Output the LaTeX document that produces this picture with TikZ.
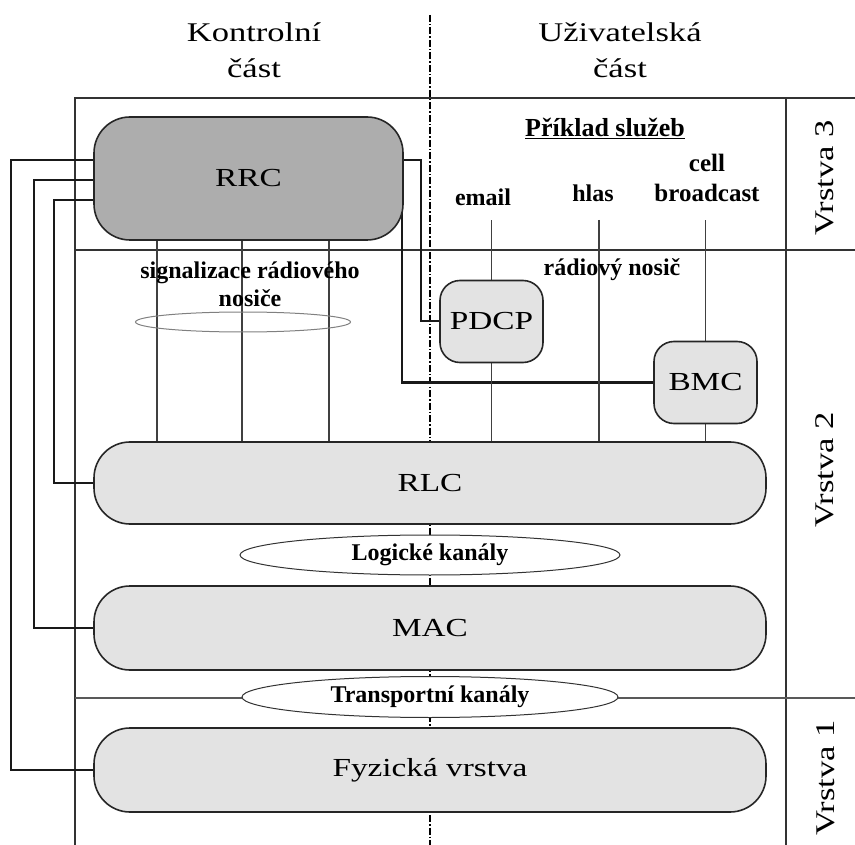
\documentclass[tikz,border=0pt]{standalone}
\usepackage{fontspec}
\setmainfont{Liberation Serif}
\newfontfamily\widefont{Liberation Serif}[FakeStretch=1.28]
\usetikzlibrary{shapes.geometric, positioning, backgrounds}

\begin{document}
\begin{tikzpicture}[x=1pt, y=-1pt, on grid,
    bigbox/.style={draw=black!85, line width=1.6pt, rounded corners=36pt, fill=black!11,
      minimum width=672pt, minimum height=82pt, font=\widefont\fontsize{26}{30}\selectfont},
    smallbox/.style={draw=black!85, line width=1.6pt, rounded corners=20pt, fill=black!11,
      minimum width=103pt, minimum height=82pt, font=\widefont\fontsize{26}{30}\selectfont},
    chan/.style={ellipse, draw=black!80, line width=1pt, fill=white, inner sep=0pt,
      font=\bfseries\fontsize{24}{28}\selectfont},
    lbl/.style={font=\bfseries\fontsize{24}{28}\selectfont, align=center},
    head/.style={font=\widefont\fontsize{27}{36}\selectfont, align=center},
    rule/.style={draw=black!80, line width=1.6pt},
    wire/.style={draw=black!90, line width=2pt},
    svc/.style={draw=black!75, line width=1.3pt}]
  \useasboundingbox (0,0) rectangle (855,845);

  % protocol blocks
  \node[bigbox, fill=black!32, minimum width=309pt, minimum height=123pt] (rrc) at (248.5,178.5) {RRC};
  \node[smallbox] (pdcp) at (491.5,321.5) {PDCP};
  \node[smallbox] (bmc) at (705.5,382.5) {BMC};
  \node[bigbox] (rlc) at (430,483) {RLC};
  \node[chan, minimum width=380pt, minimum height=40pt] (logic) [below=72pt of rlc] {Logické kanály};
  \node[bigbox, minimum height=84pt] (mac) [below=145pt of rlc] {MAC};
  \node[chan, minimum width=376pt, minimum height=41pt] (transport) [below=69pt of mac] {Transportní kanály};
  \node[bigbox, minimum height=84pt] (phy) [below=142pt of mac] {Fyzická vrstva};

  % headings and labels
  \node[head] (ctrl) at (254,50) {Kontrolní\\část};
  \node[head] (user) at (620,50) {Uživatelská\\část};
  \node[lbl, font=\bfseries\fontsize{26}{30}\selectfont] (examples) at (605,128) {\underline{Příklad služeb}};
  \node[lbl] (email) at (483,197) {email};
  \node[lbl] (voice) at (593,193) {hlas};
  \node[lbl, font=\bfseries\fontsize{25}{30}\selectfont] (cbc) at (707,178) {cell\\broadcast};
  \node[lbl] (sigtxt) at (250,284) {signalizace rádiového\\nosiče};
  \node[lbl] (radiotxt) at (612,270) {rádiový nosič};
  \node[ellipse, draw=black!50, line width=1pt, minimum width=215pt, minimum height=20pt, inner sep=0pt] (sigell) at (243,322) {};
  \node[head, rotate=90] (l3) at (825,178) {Vrstva 3};
  \node[head, rotate=90] (l2) at (825,470) {Vrstva 2};
  \node[head, rotate=90] (l1) at (826,778) {Vrstva 1};

  \begin{scope}[on background layer]
    % frame
    \draw[line width=1.2pt, dash pattern=on 7pt off 2pt on 1.5pt off 2pt] (430,15) -- (430,845);
    \draw[rule] (855,98) -- (75,98) -- (75,845);
    \draw[rule] (786,98) -- (786,845);
    \draw[rule] (75,250) -- (855,250);
    \draw[rule, draw=black!65, line width=2.6pt] (75,698) -- (855,698);

    % control connections
    \draw[wire] ([yshift=18.5pt]rrc.west) -- ++(-82,0) |- (phy.west);
    \draw[wire] ([yshift=-1.5pt]rrc.west) -- ++(-59,0) |- (mac.west);
    \draw[wire] ([yshift=-21.5pt]rrc.west) -- ++(-39,0) |- (rlc.west);
    \draw[wire] ([yshift=18.5pt]rrc.east) -- ++(17,0) |- (pdcp.west);
    \draw[wire] (bmc.west) -| ([xshift=-2pt]rrc.east);

    % bearers
    \foreach \dx in {-91.5,-6.5,80.5}
      \draw[svc] ([xshift=\dx pt]rrc.south) -- ([xshift=\dx pt]rrc.south |- rlc.north);
    \draw[svc] (pdcp.north) -- ++(0,-60);
    \draw[svc] (pdcp.south) -- (pdcp.south |- rlc.north);
    \coordinate (voicetop) at (599,220);
    \draw[svc] (voicetop) -- (voicetop |- rlc.north);
    \draw[svc] (bmc.north) -- ++(0,-121);
    \draw[svc] (bmc.south) -- (bmc.south |- rlc.north);
  \end{scope}
\end{tikzpicture}
\end{document}
